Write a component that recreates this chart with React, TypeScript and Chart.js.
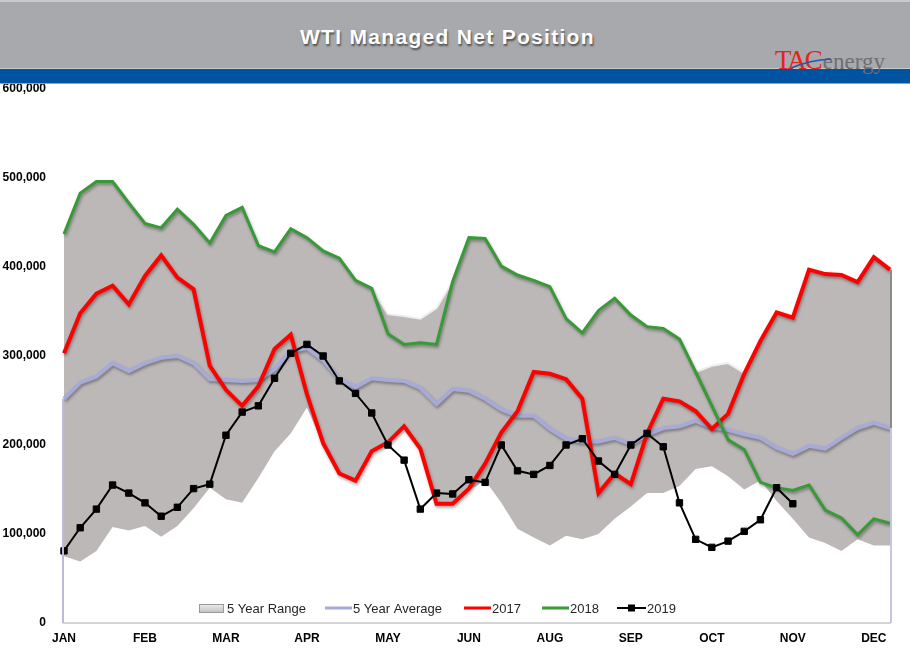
import React, { useEffect, useRef } from 'react';
import { Chart, registerables } from 'chart.js';

Chart.register(...registerables);

// Weekly categories; month names sit on every 5th week as in the source chart
const categories = [
  'JAN', '', '', '', '', 'FEB', '', '', '', '', 'MAR', '', '', '', '', 'APR', '', '', '', '',
  'MAY', '', '', '', '', 'JUN', '', '', '', '', 'AUG', '', '', '', '', 'SEP', '', '', '', '',
  'OCT', '', '', '', '', 'NOV', '', '', '', '', 'DEC', '',
];

const yTicks = [0, 100000, 200000, 300000, 400000, 500000, 600000];

const range5yMax = [
  437000, 483000, 496000, 496000, 472000, 449000, 444000, 465000, 448000, 427000,
  458000, 467000, 424000, 417000, 443000, 433000, 418000, 410000, 385000, 376000,
  347000, 345000, 342000, 354000, 384000, 433000, 432000, 401000, 391000, 385000,
  378000, 342000, 326000, 351000, 365000, 346000, 333000, 331000, 319000, 282000,
  289000, 292000, 281000, 317000, 349000, 343000, 397000, 392000, 391000, 383000,
  411000, 397000,
];

const range5yMin = [
  75000, 69000, 81000, 108000, 104000, 109000, 97000, 109000, 129000, 152000,
  139000, 135000, 163000, 193000, 213000, 242000, 200000, 166000, 158000, 191000,
  201000, 219000, 194000, 132000, 132000, 149000, 160000, 135000, 106000, 96000,
  87000, 98000, 94000, 100000, 117000, 131000, 146000, 146000, 154000, 173000,
  176000, 165000, 150000, 160000, 137000, 117000, 96000, 90000, 81000, 94000,
  87000, 87000,
];

const avg5y = [
  252000, 270000, 277000, 292000, 283000, 292000, 298000, 300000, 292000, 274000,
  273000, 272000, 273000, 285000, 306000, 309000, 295000, 274000, 265000, 275000,
  273000, 272000, 264000, 246000, 263000, 261000, 252000, 240000, 233000, 233000,
  218000, 207000, 204000, 204000, 208000, 201000, 212000, 219000, 221000, 227000,
  220000, 217000, 212000, 208000, 197000, 190000, 199000, 196000, 208000, 219000,
  225000, 219000,
];

const y2017 = [
  303000, 348000, 370000, 379000, 358000, 390000, 413000, 388000, 375000, 289000,
  262000, 244000, 266000, 308000, 324000, 257000, 202000, 168000, 160000, 193000,
  203000, 221000, 196000, 134000, 134000, 151000, 179000, 214000, 238000, 282000,
  280000, 274000, 252000, 146000, 168000, 156000, 213000, 252000, 249000, 238000,
  218000, 235000, 280000, 317000, 349000, 343000, 397000, 392000, 391000, 383000,
  411000, 397000,
];

const y2018 = [
  437000, 483000, 496000, 496000, 472000, 449000, 444000, 465000, 448000, 427000,
  458000, 467000, 424000, 417000, 443000, 433000, 418000, 410000, 385000, 376000,
  325000, 313000, 315000, 313000, 384000, 433000, 432000, 401000, 391000, 385000,
  378000, 342000, 326000, 351000, 365000, 346000, 333000, 331000, 319000, 282000,
  244000, 206000, 195000, 158000, 152000, 149000, 155000, 127000, 118000, 99000,
  117000, 112000,
];

const y2019 = [
  81000, 107000, 128000, 155000, 146000, 135000, 120000, 130000, 151000, 156000,
  211000, 237000, 244000, 275000, 303000, 313000, 300000, 272000, 258000, 236000,
  200000, 183000, 128000, 146000, 145000, 161000, 158000, 200000, 171000, 167000,
  177000, 200000, 207000, 182000, 167000, 200000, 213000, 198000, 135000, 94000,
  85000, 92000, 103000, 116000, 152000, 134000,
];

const COLORS = {
  range: '#bcb8b7',
  rangeEdge: '#efeeee',
  avg: '#a7aad7',
  y2017: '#ff0000',
  y2018: '#379a37',
  y2019: '#000000',
};

const AXIS_FONT = { family: '"Liberation Sans", Arial, sans-serif', size: 12, weight: 'bold' as const };

const shadowPlugin = {
  id: 'lineShadow',
  beforeDatasetDraw(chart: any, args: any) {
    const ds = chart.data.datasets[args.index];
    if (ds.shadow) {
      const ctx = chart.ctx;
      ctx.save();
      ctx.shadowColor = 'rgba(0,0,0,0.35)';
      ctx.shadowBlur = 3;
      ctx.shadowOffsetX = 1;
      ctx.shadowOffsetY = 2;
    }
  },
  afterDatasetDraw(chart: any, args: any) {
    const ds = chart.data.datasets[args.index];
    if (ds.shadow) chart.ctx.restore();
  },
};

const edgePlugin = {
  id: 'edgeLines',
  afterDatasetsDraw(chart: any) {
    const { ctx, chartArea, scales } = chart;
    const yS = scales.y;
    const n = categories.length - 1;
    const y0 = yS.getPixelForValue(0);
    ctx.save();
    ctx.lineWidth = 2;
    // left edge
    ctx.strokeStyle = '#b9bbd8';
    ctx.beginPath();
    ctx.moveTo(chartArea.left - 1, yS.getPixelForValue(avg5y[0]));
    ctx.lineTo(chartArea.left - 1, y0);
    ctx.stroke();
    // right edge
    ctx.strokeStyle = '#8a8a8a';
    ctx.beginPath();
    ctx.moveTo(chartArea.right + 1, yS.getPixelForValue(range5yMax[n]));
    ctx.lineTo(chartArea.right + 1, yS.getPixelForValue(avg5y[n]));
    ctx.stroke();
    ctx.strokeStyle = '#c4c6e0';
    ctx.beginPath();
    ctx.moveTo(chartArea.right + 1, yS.getPixelForValue(avg5y[n]));
    ctx.lineTo(chartArea.right + 1, y0);
    ctx.stroke();
    ctx.restore();
  },
};

const legendPlugin = {
  id: 'innerLegend',
  afterDraw(chart: any) {
    const { ctx, chartArea } = chart;
    const y = chartArea.bottom - 15;
    const starts = [198, 325, 464, 542, 617];
    const order = [0, 2, 3, 4, 5];
    ctx.save();
    ctx.font = '13px "Liberation Sans", Arial, sans-serif';
    ctx.textBaseline = 'middle';
    ctx.textAlign = 'left';
    order.forEach((dsIndex, k) => {
      const ds = chart.data.datasets[dsIndex];
      const x = starts[k];
      let textX = x + 29;
      if (dsIndex === 0) {
        const g = ctx.createLinearGradient(0, y - 5, 0, y + 5);
        g.addColorStop(0, '#f4f4f4');
        g.addColorStop(1, '#bdbdbd');
        ctx.fillStyle = g;
        ctx.fillRect(x + 1, y - 4, 25, 9);
        ctx.strokeStyle = '#9a9a9a';
        ctx.lineWidth = 1;
        ctx.strokeRect(x + 1.5, y - 3.5, 24, 8);
      } else {
        const w = dsIndex === 5 ? 29 : 27;
        ctx.strokeStyle = ds.borderColor;
        ctx.lineWidth = dsIndex === 5 ? 2 : 3;
        ctx.beginPath();
        ctx.moveTo(x, y);
        ctx.lineTo(x + w, y);
        ctx.stroke();
        if (dsIndex === 5) {
          ctx.fillStyle = '#000';
          ctx.fillRect(x + w / 2 - 3.5, y - 3.5, 7, 7);
        }
        textX = x + w + 1;
      }
      ctx.fillStyle = '#262626';
      ctx.fillText(ds.label, textX, y + 1);
    });
    ctx.restore();
  },
};

function WtiChart() {
  const ref = useRef<HTMLCanvasElement | null>(null);
  useEffect(() => {
    if (!ref.current) return;
    const chart = new Chart(ref.current, {
      type: 'line',
      data: {
        labels: categories,
        datasets: [
          {
            label: '5 Year Range',
            data: range5yMax,
            borderColor: COLORS.rangeEdge,
            borderWidth: 2,
            backgroundColor: COLORS.range,
            fill: '+1',
            pointRadius: 0,
            tension: 0,
            order: 5,
          },
          {
            label: '5 Year Range Low',
            data: range5yMin,
            borderColor: 'rgba(0,0,0,0)',
            borderWidth: 0,
            fill: false,
            pointRadius: 0,
            order: 6,
          },
          {
            label: '5 Year Average',
            data: avg5y,
            borderColor: COLORS.avg,
            borderWidth: 4,
            fill: false,
            pointRadius: 0,
            order: 4,
            shadow: true,
          } as any,
          {
            label: '2017',
            data: y2017,
            borderColor: COLORS.y2017,
            borderWidth: 4,
            fill: false,
            pointRadius: 0,
            order: 3,
            shadow: true,
          } as any,
          {
            label: '2018',
            data: y2018,
            borderColor: COLORS.y2018,
            borderWidth: 3,
            fill: false,
            pointRadius: 0,
            order: 2,
            shadow: true,
          } as any,
          {
            label: '2019',
            data: y2019,
            borderColor: COLORS.y2019,
            backgroundColor: COLORS.y2019,
            borderWidth: 2,
            fill: false,
            pointStyle: 'rect',
            pointRadius: 4.5,
            pointBorderWidth: 1,
            pointBorderColor: '#000',
            pointBackgroundColor: '#000',
            order: 1,
          },
        ],
      },
      options: {
        animation: false,
        responsive: false,
        maintainAspectRatio: false,
        devicePixelRatio: 1,
        layout: { padding: { top: 28, right: 20, left: 0, bottom: 0 } },
        plugins: {
          legend: { display: false },
          tooltip: { enabled: false },
          title: { display: false },
        },
        scales: {
          x: {
            type: 'category',
            offset: false,
            grid: { display: false, drawTicks: false },
            border: { display: true, color: '#d4d4d4', width: 2 },
            ticks: {
              autoSkip: false,
              maxRotation: 0,
              minRotation: 0,
              padding: 8,
              color: '#000',
              font: AXIS_FONT,
              callback: (_v: any, i: number) => categories[i],
            },
            afterFit: (s: any) => {
              s.height = 38;
            },
          },
          y: {
            min: 0,
            max: 600000,
            grid: { display: false, drawTicks: false },
            border: { display: false },
            afterBuildTicks: (s: any) => {
              s.ticks = yTicks.map((v) => ({ value: v }));
            },
            ticks: {
              padding: 18,
              color: '#000',
              font: AXIS_FONT,
              callback: (v: any) => Number(v).toLocaleString('en-US'),
            },
            afterFit: (s: any) => {
              s.width = 64;
            },
          },
        },
      },
      plugins: [shadowPlugin, edgePlugin, legendPlugin],
    });
    return () => chart.destroy();
  }, []);
  return (
    <canvas
      ref={ref}
      width={910}
      height={600}
      style={{ position: 'absolute', left: 0, top: 61, width: 910, height: 600, background: '#fff' }}
    />
  );
}

export default function App() {
  return (
    <div
      style={{
        position: 'absolute',
        left: 0,
        top: 0,
        width: 910,
        height: 661,
        background: '#fff',
        overflow: 'hidden',
      }}
    >
      <WtiChart />
      <div
        style={{
          position: 'absolute',
          left: 0,
          top: 0,
          width: 910,
          height: 68,
          background: '#a8a9ac',
          borderTop: '2px solid #c9cacc',
          boxSizing: 'border-box',
          zIndex: 2,
        }}
      />
      <div
        style={{
          position: 'absolute',
          left: 0,
          top: 68,
          width: 910,
          height: 1,
          background: '#c6cbd3',
          zIndex: 2,
        }}
      />
      <div
        style={{
          position: 'absolute',
          left: 0,
          top: 69,
          width: 910,
          height: 15,
          background: '#0053a1',
          borderBottom: '1px solid #7fa3cc',
          boxSizing: 'border-box',
          zIndex: 2,
        }}
      />
      <div
        style={{
          position: 'absolute',
          left: 300,
          top: 26,
          fontFamily: '"Liberation Sans", Arial, sans-serif',
          fontWeight: 'bold',
          fontSize: 21,
          lineHeight: '21px',
          letterSpacing: '1.3px',
          color: '#fff',
          whiteSpace: 'nowrap',
          textShadow: '1px 2px 2px rgba(0,0,0,0.55)',
          zIndex: 3,
        }}
      >
        WTI Managed Net Position
      </div>
      <div
        style={{
          position: 'absolute',
          left: 775,
          top: 47,
          fontFamily: '"Liberation Serif", "Times New Roman", serif',
          lineHeight: '27px',
          whiteSpace: 'nowrap',
          zIndex: 3,
        }}
      >
        <span style={{ color: '#e1251b', fontSize: 27, letterSpacing: '-2px' }}>TAC</span>
        <span style={{ color: '#6e6f72', fontSize: 23, marginLeft: 2 }}>energy</span>
      </div>
      <svg
        width={910}
        height={90}
        style={{ position: 'absolute', left: 0, top: 0, zIndex: 4, pointerEvents: 'none' }}
      >
        <path d="M791 68 Q810 60 831 59" stroke="#2a57a8" strokeWidth={1.6} fill="none" />
      </svg>
    </div>
  );
}
